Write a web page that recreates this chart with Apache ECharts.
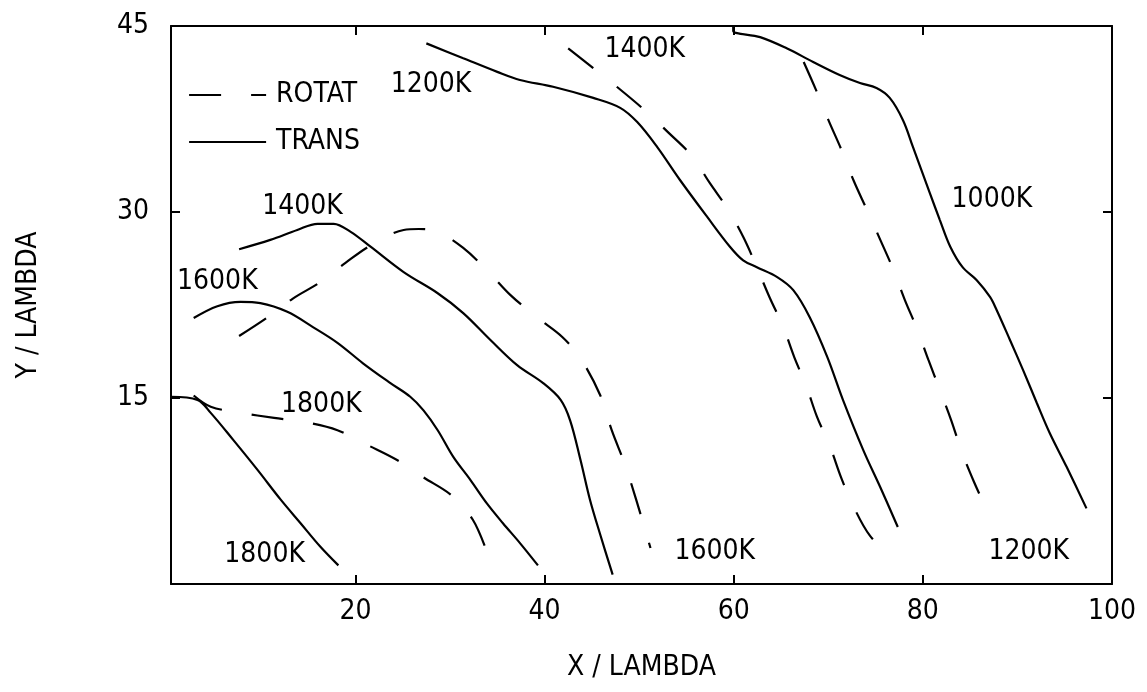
<!DOCTYPE html>
<html>
<head>
<meta charset="utf-8">
<script src="https://cdn.jsdelivr.net/npm/echarts@6/dist/echarts.min.js"></script>
<style>
  html, body { margin: 0; padding: 0; background: #fff; }
  #chart { width: 1147px; height: 692px; }
</style>
</head>
<body>
<div id="chart"></div>
<script>
// Temperature contours in the X/Y plane (units of lambda):
// dashed = rotational temperature, solid = translational temperature.

const xTickValues = [20, 40, 60, 80];
const xLabelValues = [20, 40, 60, 80, 100];

// ROTAT contours
const rotat1800 = [[2.9, 15.2], [4.7, 14.3], [7.9, 13.8], [11.4, 13.4], [14.7, 13.05], [18.1, 12.4],
  [21.3, 11.2], [24.4, 10.0], [27.2, 8.6], [30.25, 7.1], [32.4, 5.2], [33.85, 2.7]];
const rotat1600 = [[7.7, 20.0], [10.7, 21.5], [13.35, 23.0], [16.3, 24.35], [18.95, 25.9], [21.6, 27.3],
  [25.1, 28.55], [26.7, 28.63], [28.7, 28.4], [31.4, 27.1], [34.1, 25.15], [36.4, 23.3], [39.2, 21.5],
  [41.9, 19.9], [43.8, 18.2], [45.9, 15.2], [47.1, 12.4], [48.7, 9.2], [51.2, 2.9]];
const rotat1400 = [[42.5, 43.2], [45.15, 41.6], [47.8, 40.0], [50.6, 38.2], [53.1, 36.4], [55.6, 34.5],
  [57.5, 32.3], [59.4, 30.2], [61.0, 28.0], [62.25, 25.9], [63.8, 23.1], [65.2, 20.8], [66.4, 18.3],
  [67.7, 15.9], [68.8, 13.5], [70.2, 11.05], [71.35, 8.6], [72.7, 6.2], [74.4, 3.9], [76.8, 2.1]];
const rotat1200 = [[67.4, 42.1], [68.7, 39.85], [70.05, 37.35], [71.4, 35.0], [72.7, 32.5], [74.1, 30.15],
  [75.5, 27.75], [76.85, 25.4], [78.1, 22.9], [79.4, 20.55], [80.6, 18.05], [81.8, 15.65], [83.0, 13.2],
  [84.1, 10.7], [85.4, 8.25], [86.8, 5.9]];

// TRANS contours
const trans1800 = [[0.5, 15.1], [3.3, 14.85], [4.7, 13.8], [7.1, 11.6], [9.65, 9.2], [12.1, 6.8],
  [14.2, 4.9], [16.3, 3.0], [18.2, 1.5]];
const trans1600 = [[2.9, 21.45], [5.4, 22.4], [7.85, 22.75], [9.95, 22.65], [12.8, 21.95], [15.55, 20.7],
  [18.1, 19.45], [20.8, 17.8], [23.7, 16.2], [25.8, 15.1], [27.2, 14.0], [28.7, 12.4], [30.35, 10.25],
  [32.15, 8.4], [33.9, 6.5], [35.6, 4.9], [37.4, 3.3], [39.3, 1.5]];
const trans1400 = [[7.7, 27.0], [11.0, 27.75], [13.85, 28.55], [16.0, 29.05], [17.7, 29.05], [19.5, 28.4],
  [21.6, 27.2], [25.1, 25.15], [28.7, 23.45], [31.4, 21.85], [34.25, 19.7], [37.1, 17.65], [39.85, 16.2],
  [41.7, 14.85], [42.7, 13.2], [43.8, 10.0], [44.8, 6.8], [45.9, 3.95], [47.2, 0.75]];
const trans1200 = [[27.5, 43.6], [31.4, 42.4], [35.0, 41.3], [37.4, 40.65], [40.9, 40.1], [45.15, 39.2],
  [48.0, 38.4], [49.8, 37.25], [51.9, 35.25], [54.3, 32.6], [57.2, 29.6], [59.6, 27.2], [61.0, 26.1],
  [62.45, 25.55], [64.6, 24.75], [66.3, 23.7], [68.05, 21.5], [69.9, 18.3], [71.55, 14.85], [73.7, 10.8],
  [75.5, 7.8], [77.35, 4.6]];
const trans1000 = [[59.95, 45.0], [59.95, 44.6], [62.8, 44.1], [65.6, 43.2], [68.4, 42.1], [71.2, 41.05],
  [73.35, 40.4], [75.1, 40.0], [76.5, 39.2], [77.9, 37.4], [78.95, 35.25], [80.75, 31.5], [81.8, 29.35],
  [82.9, 27.2], [84.2, 25.55], [85.7, 24.5], [87.1, 23.15], [87.8, 22.1], [89.2, 19.7], [90.6, 17.25],
  [92.05, 14.6], [93.4, 12.2], [95.2, 9.45], [97.3, 6.1]];

// Contour annotations: [x, y, text]
const contourLabels = [
  [28.0, 40.3, '1200K'], [50.6, 43.05, '1400K'], [87.3, 31.0, '1000K'],
  [14.4, 30.4, '1400K'], [5.4, 24.35, '1600K'], [16.4, 14.45, '1800K'],
  [10.4, 2.35, '1800K'], [58.0, 2.6, '1600K'], [91.2, 2.6, '1200K']
];

const FONT = '"Liberation Sans Narrow", "DejaVu Sans Condensed", "Roboto Condensed", "Liberation Sans", sans-serif';
const INK = '#000';

function contour(name, data, dashed) {
  return {
    type: 'line',
    name: name,
    data: data,
    smooth: 0.35,
    symbol: 'none',
    showSymbol: false,
    silent: true,
    lineStyle: { color: INK, width: 2.2, type: dashed ? [32, 30] : 'solid' },
    itemStyle: { color: INK }
  };
}

const chart = echarts.init(document.getElementById('chart'), null, { renderer: 'canvas' });

const axisLine = { show: true, onZero: false, lineStyle: { color: INK, width: 2 } };
const tickStyle = { inside: true, length: 9, lineStyle: { color: INK, width: 2 } };
const labelStyle = { color: INK, fontFamily: FONT, fontSize: 28 };

chart.setOption({
  backgroundColor: '#fff',
  animation: false,
  textStyle: { fontFamily: FONT },
  grid: { left: 171, right: 35, top: 26, bottom: 108, containLabel: false },
  legend: {
    orient: 'vertical',
    left: 188,
    top: 80,
    padding: 0,
    itemWidth: 77,
    itemHeight: 30,
    itemGap: 17,
    data: ['ROTAT', 'TRANS'],
    itemStyle: { opacity: 0, borderWidth: 0 },
    lineStyle: { width: 2.2, color: INK },
    textStyle: { color: INK, fontFamily: FONT, fontSize: 28, lineHeight: 30, padding: [0, 0, 0, 5] },
    selectedMode: false
  },
  xAxis: [
    {
      type: 'value', position: 'bottom', min: 0.5, max: 100,
      axisLine: axisLine,
      axisTick: Object.assign({ customValues: xTickValues }, tickStyle),
      axisLabel: Object.assign({ customValues: xLabelValues, margin: 14 }, labelStyle),
      splitLine: { show: false },
      name: 'X / LAMBDA', nameLocation: 'middle', nameGap: 70,
      nameTextStyle: labelStyle
    },
    {
      type: 'value', position: 'top', min: 0.5, max: 100,
      axisLine: axisLine,
      axisTick: Object.assign({ customValues: xTickValues }, tickStyle),
      axisLabel: { show: false },
      splitLine: { show: false }
    }
  ],
  yAxis: [
    {
      type: 'value', position: 'left', min: 0, max: 45, interval: 15,
      axisLine: axisLine,
      axisTick: tickStyle,
      axisLabel: Object.assign({ showMinLabel: false, margin: 22 }, labelStyle),
      splitLine: { show: false },
      name: 'Y / LAMBDA', nameLocation: 'middle', nameGap: 128,
      nameTextStyle: labelStyle
    },
    {
      type: 'value', position: 'right', min: 0, max: 45, interval: 15,
      axisLine: axisLine,
      axisTick: tickStyle,
      axisLabel: { show: false },
      splitLine: { show: false }
    }
  ],
  series: [
    contour('ROTAT', rotat1800, true),
    contour('ROTAT', rotat1600, true),
    contour('ROTAT', rotat1400, true),
    contour('ROTAT', rotat1200, true),
    contour('TRANS', trans1800, false),
    contour('TRANS', trans1600, false),
    contour('TRANS', trans1400, false),
    contour('TRANS', trans1200, false),
    contour('TRANS', trans1000, false),
    {
      type: 'scatter',
      name: 'labels',
      symbolSize: 0,
      silent: true,
      itemStyle: { opacity: 1, color: INK },
      data: contourLabels.map(d => ({ value: [d[0], d[1]], name: d[2] })),
      label: {
        show: true,
        position: 'inside',
        formatter: p => p.name,
        color: INK,
        opacity: 1,
        fontFamily: FONT,
        fontSize: 28
      },
      z: 5
    }
  ]
});
</script>
</body>
</html>
